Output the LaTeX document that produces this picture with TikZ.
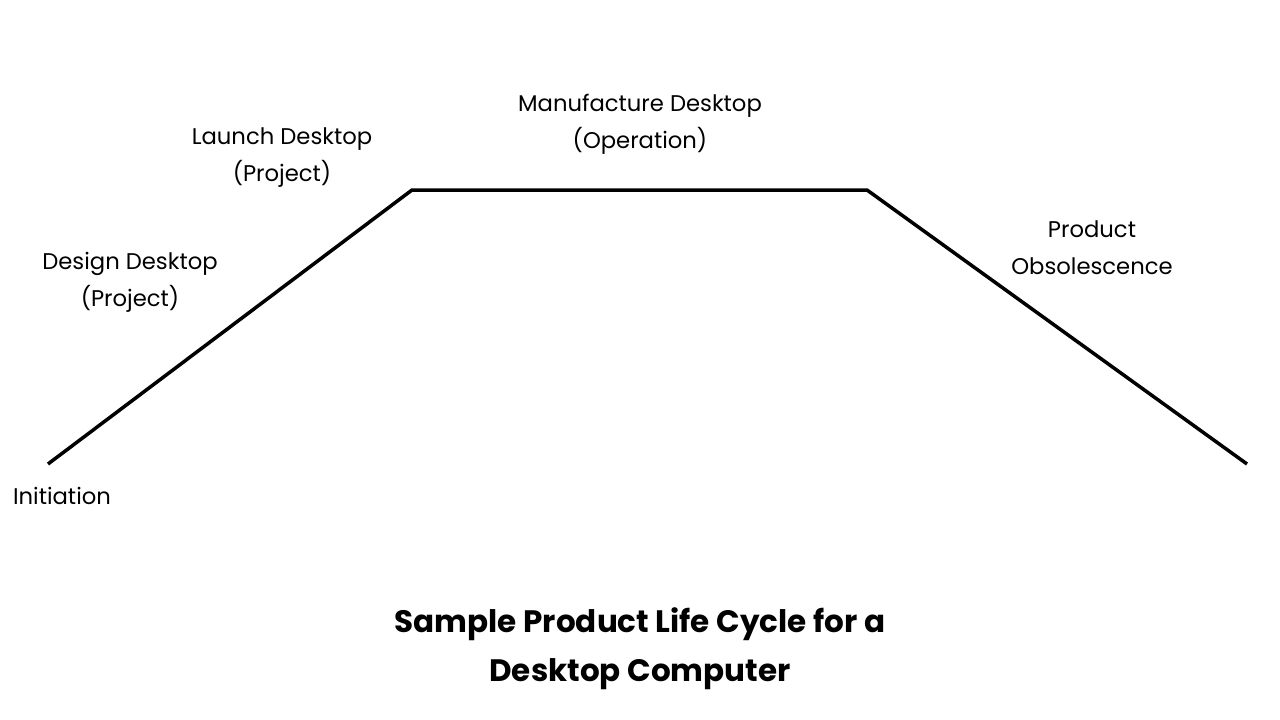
\documentclass[tikz,border=0pt]{standalone}
\usepackage{fontspec}
\setmainfont{Poppins}
\begin{document}
\begin{tikzpicture}[x=1pt,y=-1pt,
  lbl/.style={align=center,font=\fontsize{22.7}{37}\selectfont,inner sep=0pt},
  ttl/.style={align=center,font=\fontsize{31}{49}\selectfont\bfseries,inner sep=0pt}]
\useasboundingbox[fill=white] (0,0) rectangle (1280,720);
\coordinate (a) at (48,464);
\coordinate (b) at (412,190);
\coordinate (c) at (867,190);
\coordinate (d) at (1247,464);
\draw[line width=3.5pt,line join=miter] (a) -- (b) -- (c) -- (d);
\node[lbl] (manu) at (640,124) {Manufacture Desktop\\(Operation)};
\node[lbl] (launch) at (282,158) {Launch Desktop\\(Project)};
\node[lbl] (design) at (130,282) {Design Desktop\\(Project)};
\node[lbl] (obs) at (1092,248) {Product\\Obsolescence};
\node[lbl] (init) at (62,496) {Initiation};
\node[ttl] (title) at (640,649) {Sample Product Life Cycle for a\\Desktop Computer};
\end{tikzpicture}
\end{document}
